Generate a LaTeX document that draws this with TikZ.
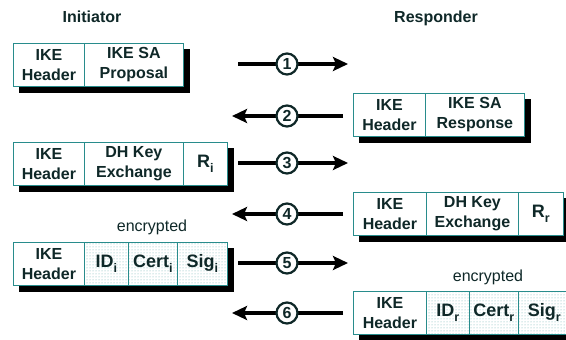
\documentclass[tikz,border=0pt]{standalone}
\usepackage{fontspec}
\setmainfont{Liberation Sans}
\usetikzlibrary{arrows.meta,patterns,backgrounds}
\definecolor{ink}{RGB}{15,40,40}
\definecolor{edge}{RGB}{40,140,140}
\definecolor{dotc}{RGB}{110,180,180}
\newcommand\lowsub[1]{\raisebox{-5pt}{\fontsize{12.5}{12.5}\selectfont #1}}
\tikzset{
  cell/.style={draw=edge, line width=0.8pt, fill=white, text=ink, align=center,
    minimum height=43, inner sep=0pt, anchor=north west,
    font=\bfseries\fontsize{16}{20}\selectfont},
  bigcell/.style={font=\bfseries\fontsize{18}{20}\selectfont},
  enc/.style={cell, bigcell, preaction={fill=white}, pattern=dots, pattern color=dotc},
  title/.style={text=ink, font=\bfseries\fontsize{16}{19}\selectfont},
  enclabel/.style={text=ink, font=\fontsize{16}{19}\selectfont},
  msg/.style={line width=4.5pt, draw=black, -{Stealth[length=15pt,width=14pt,inset=3pt]}},
  num/.style={circle, draw=ink, line width=2.2pt, fill=white, text=ink, minimum size=21, inner sep=0pt,
    font=\bfseries\fontsize{16}{16}\selectfont},
  shadow/.style={fill=black}
}
\begin{document}
\begin{tikzpicture}[x=1pt,y=-1pt]
\clip (0,0) rectangle (566,340);
\useasboundingbox (0,0) rectangle (566,340);
% titles
\node[title] (tI) at (92,17) {Initiator};
\node[title] (tR) at (436,18) {Responder};
% message 1
\node[cell, minimum width=71] (b1a) at (13,43) {IKE\\Header};
\node[cell, minimum width=99] (b1b) at (84,43) {IKE SA\\Proposal};
% message 2
\node[cell, minimum width=72] (b2a) at (353,93) {IKE\\Header};
\node[cell, minimum width=99] (b2b) at (425,93) {IKE SA\\Response};
% message 3
\node[cell, minimum width=71] (b3a) at (13,142) {IKE\\Header};
\node[cell, minimum width=99] (b3b) at (84,142) {DH Key\\Exchange};
\node[cell, bigcell, minimum width=44] (b3c) at (183,142) {R\lowsub{i}};
% message 4
\node[cell, minimum width=73] (b4a) at (353,192) {IKE\\Header};
\node[cell, minimum width=92] (b4b) at (426,192) {DH Key\\Exchange};
\node[cell, bigcell, minimum width=45] (b4c) at (518,192) {R\lowsub{r}};
% message 5
\node[enclabel] (e5) at (152,227) {encrypted};
\node[cell, minimum width=71] (b5a) at (13,242) {IKE\\Header};
\node[enc, minimum width=44] (b5b) at (84,242) {ID\lowsub{i}};
\node[enc, minimum width=49] (b5c) at (128,242) {Cert\lowsub{i}};
\node[enc, minimum width=50] (b5d) at (177,242) {Sig\lowsub{i}};
% message 6
\node[enclabel] (e6) at (488,277) {encrypted};
\node[cell, minimum width=73] (b6a) at (353,291) {IKE\\Header};
\node[enc, minimum width=43] (b6b) at (426,291) {ID\lowsub{r}};
\node[enc, minimum width=49] (b6c) at (469,291) {Cert\lowsub{r}};
\node[enc, minimum width=52] (b6d) at (518,291) {Sig\lowsub{r}};
% shadows
\begin{scope}[on background layer]
\fill[white] (0,0) rectangle (566,340);
\fill[shadow] ([shift={(6,6)}]b1a.north west) rectangle ([shift={(6,6)}]b1b.south east);
\fill[shadow] ([shift={(6,6)}]b2a.north west) rectangle ([shift={(6,6)}]b2b.south east);
\fill[shadow] ([shift={(6,6)}]b3a.north west) rectangle ([shift={(6,6)}]b3c.south east);
\fill[shadow] ([shift={(6,6)}]b4a.north west) rectangle ([shift={(6,6)}]b4c.south east);
\fill[shadow] ([shift={(6,6)}]b5a.north west) rectangle ([shift={(6,6)}]b5d.south east);
\fill[shadow] ([shift={(6,6)}]b6a.north west) rectangle ([shift={(6,6)}]b6d.south east);
\end{scope}
% arrows
\coordinate (r1s) at (238,64);  \coordinate (r1e) at (348,64);
\coordinate (l2s) at (343,116); \coordinate (l2e) at (232,116);
\coordinate (r3s) at (238,163); \coordinate (r3e) at (348,163);
\coordinate (l4s) at (343,214); \coordinate (l4e) at (232,214);
\coordinate (r5s) at (238,263); \coordinate (r5e) at (348,263);
\coordinate (l6s) at (343,313); \coordinate (l6e) at (232,313);
\draw[msg] (r1s) -- (r1e);
\draw[msg] (l2s) -- (l2e);
\draw[msg] (r3s) -- (r3e);
\draw[msg] (l4s) -- (l4e);
\draw[msg] (r5s) -- (r5e);
\draw[msg] (l6s) -- (l6e);
\node[num] (n1) at (287,64) {1};
\node[num] (n2) at (287,116) {2};
\node[num] (n3) at (287,163) {3};
\node[num] (n4) at (287,214) {4};
\node[num] (n5) at (287,263) {5};
\node[num] (n6) at (287,313) {6};
\end{tikzpicture}
\end{document}
